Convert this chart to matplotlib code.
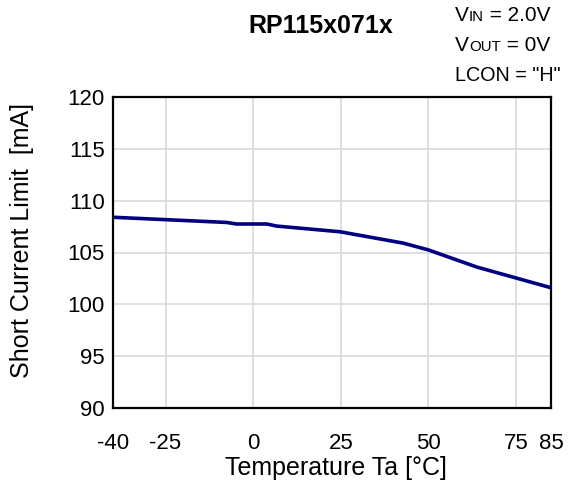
import matplotlib
matplotlib.use("Agg")
import matplotlib.pyplot as plt

temps = [-40, -7.6, -4.7, 3.9, 6.7, 24.8, 42.9, 50.0, 57.1, 63.8, 85]
current = [108.4, 107.9, 107.75, 107.75, 107.55, 107.0, 105.9, 105.25, 104.4, 103.6, 101.6]
xticks = [-40, -25, 0, 25, 50, 75, 85]
yticks = [90, 95, 100, 105, 110, 115, 120]
grid_x = [-25, 0, 25, 50, 75]

plt.rcParams['font.family'] = ['Liberation Sans', 'DejaVu Sans']
FS = 16
LFS = 18
AFS = 15

fig = plt.figure(figsize=(5.69, 4.88), dpi=100)
ax = fig.add_axes([113/569, 1-408/488, (551-113)/569, (408-97)/488])
ax.set_xlim(-40, 85)
ax.set_ylim(90, 120)
for gx in grid_x:
    ax.axvline(gx, color='#d9d9d9', lw=1.2, zorder=0)
for gy in yticks[1:-1]:
    ax.axhline(gy, color='#d9d9d9', lw=1.2, zorder=0)
ax.plot(temps, current, color='#000080', lw=2.6, solid_capstyle='butt', zorder=3)
ax.set_xticks(xticks)
ax.set_xticklabels([str(t) for t in xticks])
ax.set_yticks(yticks)
ax.tick_params(length=0, labelsize=FS)
ax.tick_params(axis='x', pad=18)
ax.tick_params(axis='y', pad=6)
for s in ax.spines.values():
    s.set_linewidth(1.6)

fig.text(336/569, 1-468/488, 'Temperature Ta [°C]', fontsize=LFS, ha='center', va='center')
fig.text(22/569, 1-240/488, 'Short Current Limit  [mA]', fontsize=LFS, ha='center', va='center', rotation=90)

fig.text(321/569, 1-33/488, 'RP115x071x', fontsize=LFS, fontweight='bold', ha='center', va='baseline')

fig.canvas.draw()
r = fig.canvas.get_renderer()

def smallcap_line(x_px, base_px, parts):
    x = x_px
    for txt, size in parts:
        t = fig.text(x/569, 1-base_px/488, txt, fontsize=size, ha='left', va='baseline')
        bb = t.get_window_extent(r)
        x = x + bb.width

smallcap_line(455, 21, [('V', AFS), ('IN', AFS*0.72), (' = 2.0V', AFS)])
smallcap_line(455, 51, [('V', AFS), ('OUT', AFS*0.72), (' = 0V', AFS)])
smallcap_line(455, 81, [('LCON = "H"', AFS*0.95)])

fig.savefig('out.png', dpi=100)
